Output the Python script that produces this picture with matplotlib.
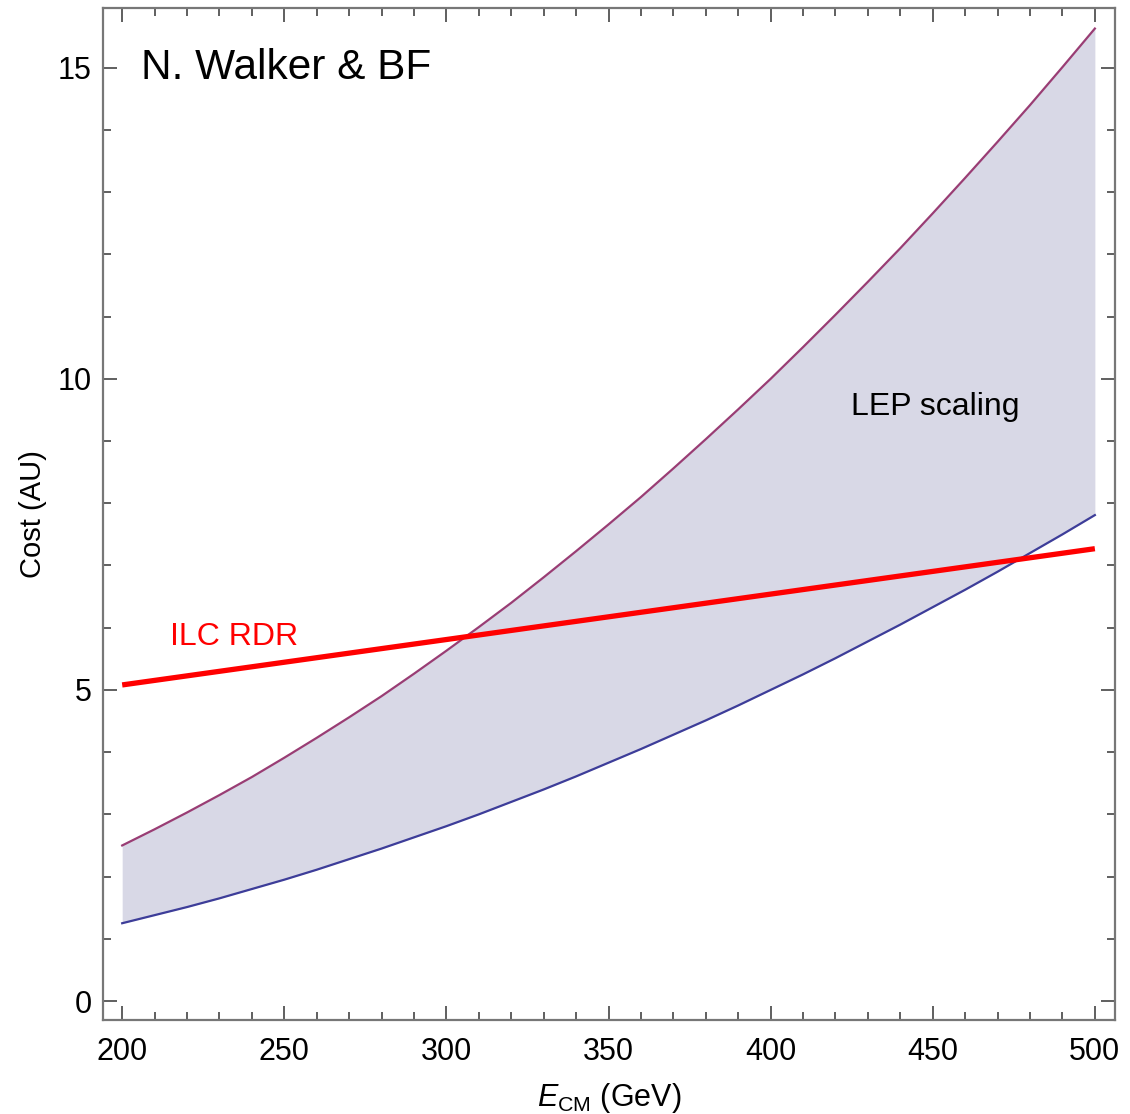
import numpy as np
import matplotlib.pyplot as plt
from matplotlib.ticker import MultipleLocator

plt.rcParams['font.family'] = ['Liberation Sans', 'DejaVu Sans']
plt.rcParams['mathtext.fontset'] = 'custom'
plt.rcParams['mathtext.rm'] = 'Liberation Sans'
plt.rcParams['mathtext.it'] = 'Liberation Sans:italic'

# values (every 10 GeV)
energy = [200, 210, 220, 230, 240, 250, 260, 270, 280, 290, 300,
          310, 320, 330, 340, 350, 360, 370, 380, 390, 400,
          410, 420, 430, 440, 450, 460, 470, 480, 490, 500]
lep_upper = [2.50, 2.76, 3.03, 3.31, 3.60, 3.91, 4.23, 4.56, 4.90, 5.26, 5.63,
             6.01, 6.40, 6.81, 7.23, 7.66, 8.10, 8.56, 9.03, 9.51, 10.00,
             10.51, 11.03, 11.56, 12.10, 12.66, 13.23, 13.81, 14.40, 15.01, 15.63]
lep_lower = [1.25, 1.38, 1.51, 1.65, 1.80, 1.95, 2.11, 2.28, 2.45, 2.63, 2.81,
             3.00, 3.20, 3.40, 3.61, 3.83, 4.05, 4.28, 4.51, 4.75, 5.00,
             5.25, 5.51, 5.78, 6.05, 6.33, 6.61, 6.90, 7.20, 7.50, 7.81]
ilc_energy = [200, 500]
ilc_cost = [5.08, 7.27]

fig = plt.figure(figsize=(11.3, 11.14), dpi=100)
ax = fig.add_axes([0.0912, 0.0844, 0.8955, 0.9084])

ax.fill_between(energy, lep_lower, lep_upper, color='#d8d8e6', lw=0)
ax.plot(energy, lep_upper, color='#993d74', lw=1.6)
ax.plot(energy, lep_lower, color='#3d3d99', lw=1.6)
ax.plot(ilc_energy, ilc_cost, color='#ff0000', lw=3.8, solid_capstyle='butt')

ax.text(205.9, 15.0, 'N. Walker & BF', fontsize=30.5, ha='left', va='center')
ax.text(450.7, 9.55, 'LEP scaling', fontsize=23, ha='center', va='center')
ax.text(234.5, 5.85, 'ILC RDR', fontsize=23, ha='center', va='center', color='#ff0000')

ax.set_xlim(194.1, 506.2)
ax.set_ylim(-0.305, 15.96)
ax.xaxis.set_major_locator(MultipleLocator(50))
ax.xaxis.set_minor_locator(MultipleLocator(10))
ax.yaxis.set_major_locator(MultipleLocator(5))
ax.yaxis.set_minor_locator(MultipleLocator(1))

ax.tick_params(which='both', direction='in', top=True, right=True,
               color='#444444', width=1.2, labelsize=22)
ax.tick_params(axis='x', pad=12)
ax.tick_params(axis='y', pad=8)
ax.tick_params(which='major', length=10)
ax.tick_params(which='minor', length=6)
for s in ax.spines.values():
    s.set_color('#777777')
    s.set_linewidth(1.6)

ax.set_xlabel(r'$E_{\rm CM}$ (GeV)', fontsize=22, labelpad=10)
ax.set_ylabel('Cost (AU)', fontsize=21, labelpad=8)

fig.savefig('out.png', dpi=100)
